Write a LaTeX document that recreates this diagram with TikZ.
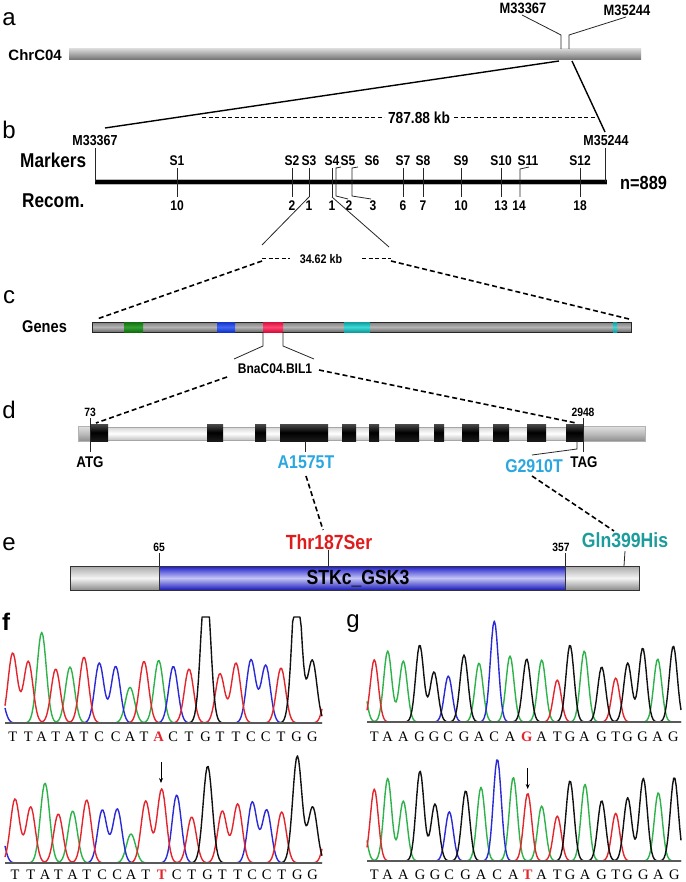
\documentclass[tikz,border=0pt]{standalone}
\usepackage{fontspec}
\setmainfont{Liberation Serif}
\setsansfont{Liberation Sans}
\newfontfamily\nsf[FakeStretch=0.86]{Liberation Sans}
\usetikzlibrary{arrows.meta}
\definecolor{chR}{HTML}{E3262D}
\definecolor{chG}{HTML}{2DB34A}
\definecolor{chB}{HTML}{2A2AD6}
\definecolor{chK}{HTML}{111111}
\definecolor{mutC}{HTML}{2AA7E0}
\definecolor{thrR}{HTML}{E01B1B}
\definecolor{glnT}{HTML}{1C9C9C}
\definecolor{cylT}{HTML}{D5D5D5}\definecolor{cylM}{HTML}{A3A3A3}\definecolor{cylB}{HTML}{6E6E6E}
\definecolor{gbT}{HTML}{7E7E7E}\definecolor{gbM}{HTML}{B4B4B4}\definecolor{gbB}{HTML}{6B6B6B}
\definecolor{grT}{HTML}{0E6E0E}\definecolor{grM}{HTML}{35A035}
\definecolor{blT}{HTML}{1533C8}\definecolor{blM}{HTML}{3F66F2}
\definecolor{rdT}{HTML}{D6103E}\definecolor{rdM}{HTML}{FF4670}
\definecolor{cyT}{HTML}{109C9C}\definecolor{cyM}{HTML}{3ED8D8}
\definecolor{utT}{HTML}{E2E2E2}\definecolor{utM}{HTML}{BDBDBD}\definecolor{utB}{HTML}{8E8E8E}
\definecolor{inT}{HTML}{D5D5D5}\definecolor{inB}{HTML}{C4C4C4}
\definecolor{exT}{HTML}{4A4A4A}\definecolor{exB}{HTML}{1A1A1A}
\definecolor{egT}{HTML}{A8A8A8}\definecolor{egM}{HTML}{F4F4F4}\definecolor{egB}{HTML}{8C8C8C}
\definecolor{ebT}{HTML}{1A1AC8}\definecolor{ebM}{HTML}{C4C4F6}\definecolor{ebB}{HTML}{1A1AB8}
\newcommand\fsz[1]{\fontsize{#1}{#1}\selectfont}
\begin{document}
\begin{tikzpicture}[x=1pt,y=-1pt,
  declare function={gs(\pu,\pc,\pa,\pw)=\pa*exp(-min(((\pu-\pc)/\pw)*((\pu-\pc)/\pw)/2,9));},
  panel/.style={font=\sffamily\fsz{24}, inner sep=0},
  bt/.style={font=\sffamily\bfseries\fsz{#1}, inner sep=0},
  bn/.style={font=\nsf\bfseries\fsz{#1}, inner sep=0},
  thinl/.style={draw=black!85, line width=0.8},
  conn/.style={draw=black, line width=1.4},
  tdash/.style={draw=black, line width=1, dash pattern=on 4pt off 2.5pt},
  kdash/.style={draw=black, line width=1.6, dash pattern=on 5pt off 3pt},
  chrom/.style={line width=1.4, line join=round},
  seq/.style={font=\rmfamily\fsz{14.5}, inner sep=0},
  seqm/.style={font=\rmfamily\bfseries\fsz{14.5}, inner sep=0, text=chR},
  base/.style={draw=black!65, line width=1.3},
  arr/.style={draw=black, line width=1, -{Stealth[length=5pt,width=4pt]}}]
\useasboundingbox[fill=white] (0,0) rectangle (685,882);

% ---------------- a
\node[panel] (pa) at (9,19) {a};
\node[bt=15, anchor=east] (chr) at (62,55) {ChrC04};
\shade[top color=cylT, bottom color=cylB, middle color=cylM] (69,49) rectangle (641,60);
\node[bn=15] (am1) at (523,8) {M33367};
\node[bn=15] (am2) at (627,10) {M35244};
\coordinate (a1b) at (561,49); \coordinate (a1k) at (561,35); \coordinate (a1e) at (522,15);
\coordinate (a2b) at (569,49); \coordinate (a2k) at (569,35); \coordinate (a2e) at (626,17);
\draw[thinl] (a1b) -- (a1k) -- (a1e);
\draw[thinl] (a2b) -- (a2k) -- (a2e);
\coordinate (aL) at (559,61); \coordinate (bL) at (105,128);
\coordinate (aR) at (572,61); \coordinate (bR) at (605,132);
\draw[conn] (aL) -- (bL);
\draw[conn] (aR) -- (bR);

% ---------------- b
\node[panel] (pb) at (9,130) {b};
\node[bn=16] (kb1) at (419,118) {787.88 kb};
\draw[tdash] (202,118) -- (384,118);
\draw[tdash] (454,118) -- (596,118);
\node[bn=14.5] (bm1) at (95,141) {M33367};
\node[bn=14.5] (bm2) at (606,141) {M35244};
\node[bn=20, anchor=west] (mk) at (20,160) {Markers};
\node[bn=20, anchor=west] (rc) at (22,201) {Recom.};
\draw[line width=6, gray!55] (95,182) -- (607,182);
\draw[line width=3.2, black] (95,182) -- (607,182);
\draw[thinl] (95,148) -- (95,182);
\draw[thinl] (605,148) -- (605,182);
\node[bn=19, anchor=west] (nn) at (620,183) {n=889};
\foreach \lab/\xx/\num [count=\i] in {S1/177/10, S2/292/2, S3/309/1, S4/332/1, S7/403/6, S8/423/7, S9/461/10, S10/501/13, S12/580/18}{
  \node[bn=14] (sl\i) at (\xx,161) {\lab};
  \draw[thinl] (\xx,168) -- (\xx,197);
  \node[bn=14] (rn\i) at (\xx,206) {\num};
}
\node[bn=14] (sl5) at (348,161) {S5};
\draw[thinl] (341,167) -- (336,168) -- (336,196) -- (348,199);
\node[bn=14] (rn5) at (349,206) {2};
\node[bn=14] (sl6) at (372,161) {S6};
\draw[thinl] (358,167) -- (352,168) -- (352,196) -- (371,199);
\node[bn=14] (rn6) at (373,206) {3};
\node[bn=14] (sl11) at (528,161) {S11};
\draw[thinl] (529,167) -- (520,169) -- (520,197);
\node[bn=14] (rn11) at (519,206) {14};
\draw[thinl] (309,197) -- (262,245);
\draw[thinl] (332,197) -- (389,247);
\node[bn=12.5] (kb2) at (321,259) {34.62 kb};
\draw[tdash] (262,259) -- (290,259);
\draw[tdash] (362,259) -- (391,259);
\draw[kdash] (262,261) -- (97,319);
\draw[kdash] (391,261) -- (629,319);

% ---------------- c
\node[panel] (pc) at (9,297) {c};
\node[bn=17, anchor=west] (gn) at (22,327) {Genes};
\shade[top color=gbT, bottom color=gbB, middle color=gbM] (92,322) rectangle (631,332);
\draw[gray!30!black, line width=0.4] (92,322) rectangle (631,332);
\shade[top color=grT, bottom color=grT, middle color=grM] (124,322) rectangle (143,332);
\shade[top color=blT, bottom color=blT, middle color=blM] (217,322) rectangle (235,332);
\shade[top color=rdT, bottom color=rdT, middle color=rdM] (263,322) rectangle (283,332);
\shade[top color=cyT, bottom color=cyT, middle color=cyM] (344,322) rectangle (370,332);
\shade[top color=cyT, bottom color=cyT, middle color=cyM] (613,322) rectangle (617,332);
\draw[line width=0.8, gray!30!black] (263,332) -- (263,346) -- (234,359);
\draw[line width=0.8, gray!30!black] (283,332) -- (283,346) -- (314,359);
\node[bn=14] (bil) at (275,369) {BnaC04.BIL1};
\draw[kdash] (227,377) -- (96,423);
\draw[kdash] (319,370) -- (576,423);

% ---------------- d
\node[panel] (pd) at (9,410) {d};
\shade[top color=inT, bottom color=inB, middle color=white] (78,427) rectangle (645,440);
\draw[gray!70, line width=0.4] (78,427) rectangle (645,440);
\shade[top color=utT, bottom color=utB, middle color=utM] (78,426) rectangle (90,441);
\shade[top color=utT, bottom color=utB, middle color=utM] (583,426) rectangle (645,441);
\draw[gray!60, line width=0.4] (78,426) rectangle (90,441);
\draw[gray!60, line width=0.4] (583,426) rectangle (645,441);
\foreach \ea/\eb in {90/108, 207/223, 255/266, 280/328, 342/356, 369/379, 395/419, 434/444, 462/479, 493/509, 527/546, 566/583}{
  \shade[top color=exT, bottom color=exB, middle color=black] (\ea,424) rectangle (\eb,441);
}
\node[bn=12] (n73) at (90,412) {73};
\draw[thinl] (90,418) -- (90,452);
\node[bn=15.5] (atg) at (90,462) {ATG};
\node[bn=12] (n2948) at (583,412) {2948};
\draw[thinl] (583,418) -- (583,452);
\node[bn=15.5] (tag) at (584,462) {TAG};
\draw[thinl] (305,441) -- (305,452);
\node[bn=18.5, text=mutC] (a15) at (306,462) {A1575T};
\draw[thinl] (577,441) -- (577,449) -- (532,455);
\node[bn=18.5, text=mutC] (g29) at (534,466) {G2910T};
\draw[kdash] (306,476) -- (323,530);
\draw[kdash] (532,476) -- (614,531);

% ---------------- e
\node[panel] (pe) at (9,544) {e};
\shade[top color=egT, bottom color=egB, middle color=egM] (70,566) rectangle (639,590);
\shade[top color=ebT, bottom color=ebB, middle color=ebM] (159,566) rectangle (565,590);
\draw[black!80, line width=0.6] (70,566) rectangle (639,590);
\draw[black!80, line width=0.6] (159,566) -- (159,590) (565,566) -- (565,590);
\node[bn=20.5] (stk) at (358,579) {STKc\_GSK3};
\node[bn=12] (n65) at (159,547) {65};
\draw[thinl] (159,553) -- (159,566);
\node[bn=12] (n357) at (561,547) {357};
\draw[thinl] (565,553) -- (565,566);
\node[bn=20.5, text=thrR] (thr) at (329,542) {Thr187Ser};
\draw[thinl] (328,550) -- (328,566);
\node[bn=20.5, text=glnT] (gln) at (625,540) {Gln399His};
\draw[thinl] (625,551) -- (624,566);

% ---------------- f
\node[font=\sffamily\bfseries\fsz{24}, inner sep=0] (pf) at (6,622) {f};
% f top
\draw[chrom, chG] plot[domain=5:322, samples=260] (\x, {723-(gs(\x,41.7,90.7,4.6)+gs(\x,70,56,4.6)+gs(\x,130,35.7,4.6)+gs(\x,158.7,62.7,4.6))});
\draw[chrom, chB] plot[domain=5:322, samples=260] (\x, {723-(gs(\x,-1,35,4.6)+gs(\x,99.3,60,4.6)+gs(\x,115.7,56.7,4.6)+gs(\x,173.3,56.7,4.6)+gs(\x,251,63.3,4.6)+gs(\x,265.7,57.7,4.6))});
\draw[chrom, chR] plot[domain=5:322, samples=260] (\x, {723-(gs(\x,12.7,70,4.6)+gs(\x,28.3,61.7,4.6)+gs(\x,55.7,54,4.6)+gs(\x,84,66,4.6)+gs(\x,144,61.7,4.6)+gs(\x,189,54,4.6)+gs(\x,220,49.3,4.6)+gs(\x,236,60,4.6)+gs(\x,281,55,4.6)+gs(\x,329,45,4.6))});
\draw[chrom, chK] plot[domain=5:322, samples=260] (\x, {723-min(106,gs(\x,205.7,150,4.6)+gs(\x,296.7,150,4.6)+gs(\x,312.3,62.7,4.6))});
\draw[base] (5,723) -- (322,723);
\foreach \ch/\xx [count=\i] in {T/12.7, T/28.3, A/41.7, T/55.7, A/70, T/84, C/99.3, C/115.7, A/130, T/144, C/173.3, T/189, G/205.7, T/220, T/236, C/251, C/265.7, T/281, G/296.7, G/312.3}{
  \node[seq] (fa\i) at (\xx,737) {\ch};
}
\node[seqm] (fam) at (158.7,737) {A};
% f bottom
\draw[chrom, chG] plot[domain=5:322, samples=260] (\x, {863-(gs(\x,45,80,4.6)+gs(\x,72.7,52,4.6)+gs(\x,131,29,4.6))});
\draw[chrom, chB] plot[domain=5:322, samples=260] (\x, {863-(gs(\x,-1,40,4.6)+gs(\x,102.3,53,4.6)+gs(\x,117.3,54,4.6)+gs(\x,176.7,68,4.6)+gs(\x,252.3,61,4.6)+gs(\x,266.7,53,4.6))});
\draw[chrom, chR] plot[domain=5:322, samples=260] (\x, {863-(gs(\x,15,64,4.6)+gs(\x,30.7,56,4.6)+gs(\x,58.3,49,4.6)+gs(\x,86.7,63,4.6)+gs(\x,145.7,62,4.6)+gs(\x,161.7,74,4.6)+gs(\x,191.7,46,4.6)+gs(\x,222.3,52,4.6)+gs(\x,237.7,59,4.6)+gs(\x,281.7,51,4.6)+gs(\x,329,45,4.6))});
\draw[chrom, chK] plot[domain=5:322, samples=260] (\x, {863-(gs(\x,207.7,97,4.6)+gs(\x,297.3,107,4.6)+gs(\x,312.7,56,4.6))});
\draw[base] (5,863) -- (322,863);
\foreach \ch/\xx [count=\i] in {T/15, T/30.7, A/45, T/58.3, A/72.7, T/86.7, C/102.3, C/117.3, A/131, T/145.7, C/176.7, T/191.7, G/207.7, T/222.3, T/237.7, C/252.3, C/266.7, T/281.7, G/297.3, G/312.7}{
  \node[seq] (fb\i) at (\xx,875) {\ch};
}
\node[seqm] (fbm) at (161.7,875) {T};
\coordinate (fa0) at (161,762); \coordinate (fa1) at (161,783);
\draw[arr] (fa0) -- (fa1);

% ---------------- g
\node[panel] (pg) at (353,624) {g};
% g top
\draw[chrom, chG] plot[domain=367:681, samples=260] (\x, {722-(gs(\x,362,45,4)+gs(\x,387.7,71,4)+gs(\x,403.3,61,4)+gs(\x,479,59,4)+gs(\x,510,66,4)+gs(\x,541.7,62,4)+gs(\x,584.3,71,4)+gs(\x,657.7,63,4))});
\draw[chrom, chB] plot[domain=367:681, samples=260] (\x, {722-(gs(\x,448.3,46,4)+gs(\x,494.3,101,4))});
\draw[chrom, chR] plot[domain=367:681, samples=260] (\x, {722-(gs(\x,374.3,62.3,4)+gs(\x,557.3,42,4)+gs(\x,615.7,44,4))});
\draw[chrom, chK] plot[domain=367:681, samples=260] (\x, {722-(gs(\x,419.7,77,4)+gs(\x,434,50,4)+gs(\x,464,67,4)+gs(\x,526.7,63,4)+gs(\x,570,77,4)+gs(\x,601.7,55,4)+gs(\x,627.7,59,4)+gs(\x,642.7,74,4)+gs(\x,673.3,76,4))});
\draw[base] (367,722) -- (681,722);
\foreach \ch/\xx [count=\i] in {T/374.3, A/387.7, A/403.3, G/419.7, G/434, C/448.3, G/464, A/479, C/494.3, A/510, A/541.7, T/557.3, G/570, A/584.3, G/601.7, T/615.7, G/627.7, G/642.7, A/657.7, G/673.3}{
  \node[seq] (ga\i) at (\xx,736.5) {\ch};
}
\node[seqm] (gam) at (526.7,736.5) {G};
% g bottom
\draw[chrom, chG] plot[domain=367:681, samples=260] (\x, {861-(gs(\x,362,45,4)+gs(\x,387.7,82.7,4)+gs(\x,403.3,60,4)+gs(\x,481,73.7,4)+gs(\x,513.3,83.7,4)+gs(\x,541.7,55,4)+gs(\x,585,76.7,4)+gs(\x,658.3,68.3,4))});
\draw[chrom, chB] plot[domain=367:681, samples=260] (\x, {861-(gs(\x,449.3,49.3,4)+gs(\x,497.3,102,4))});
\draw[chrom, chR] plot[domain=367:681, samples=260] (\x, {861-(gs(\x,374.3,72,4)+gs(\x,527.7,67.7,4)+gs(\x,557.3,45,4)+gs(\x,615.7,47.7,4))});
\draw[chrom, chK] plot[domain=367:681, samples=260] (\x, {861-(gs(\x,420,90,4)+gs(\x,435,57,4)+gs(\x,465.7,70.3,4)+gs(\x,570,80.3,4)+gs(\x,601.7,60.3,4)+gs(\x,627.7,63.3,4)+gs(\x,643.3,82.7,4)+gs(\x,674.3,83.7,4))});
\draw[base] (367,861) -- (681,861);
\foreach \ch/\xx [count=\i] in {T/374.3, A/387.7, A/403.3, G/420, G/435, C/449.3, G/465.7, A/481, C/497.3, A/513.3, A/541.7, T/557.3, G/570, A/585, G/601.7, T/615.7, G/627.7, G/643.3, A/658.3, G/674.3}{
  \node[seq] (gb\i) at (\xx,875) {\ch};
}
\node[seqm] (gbm) at (527.7,875) {T};
\coordinate (ga0) at (527.7,768); \coordinate (ga1) at (527.7,789);
\draw[arr] (ga0) -- (ga1);
\end{tikzpicture}
\end{document}
